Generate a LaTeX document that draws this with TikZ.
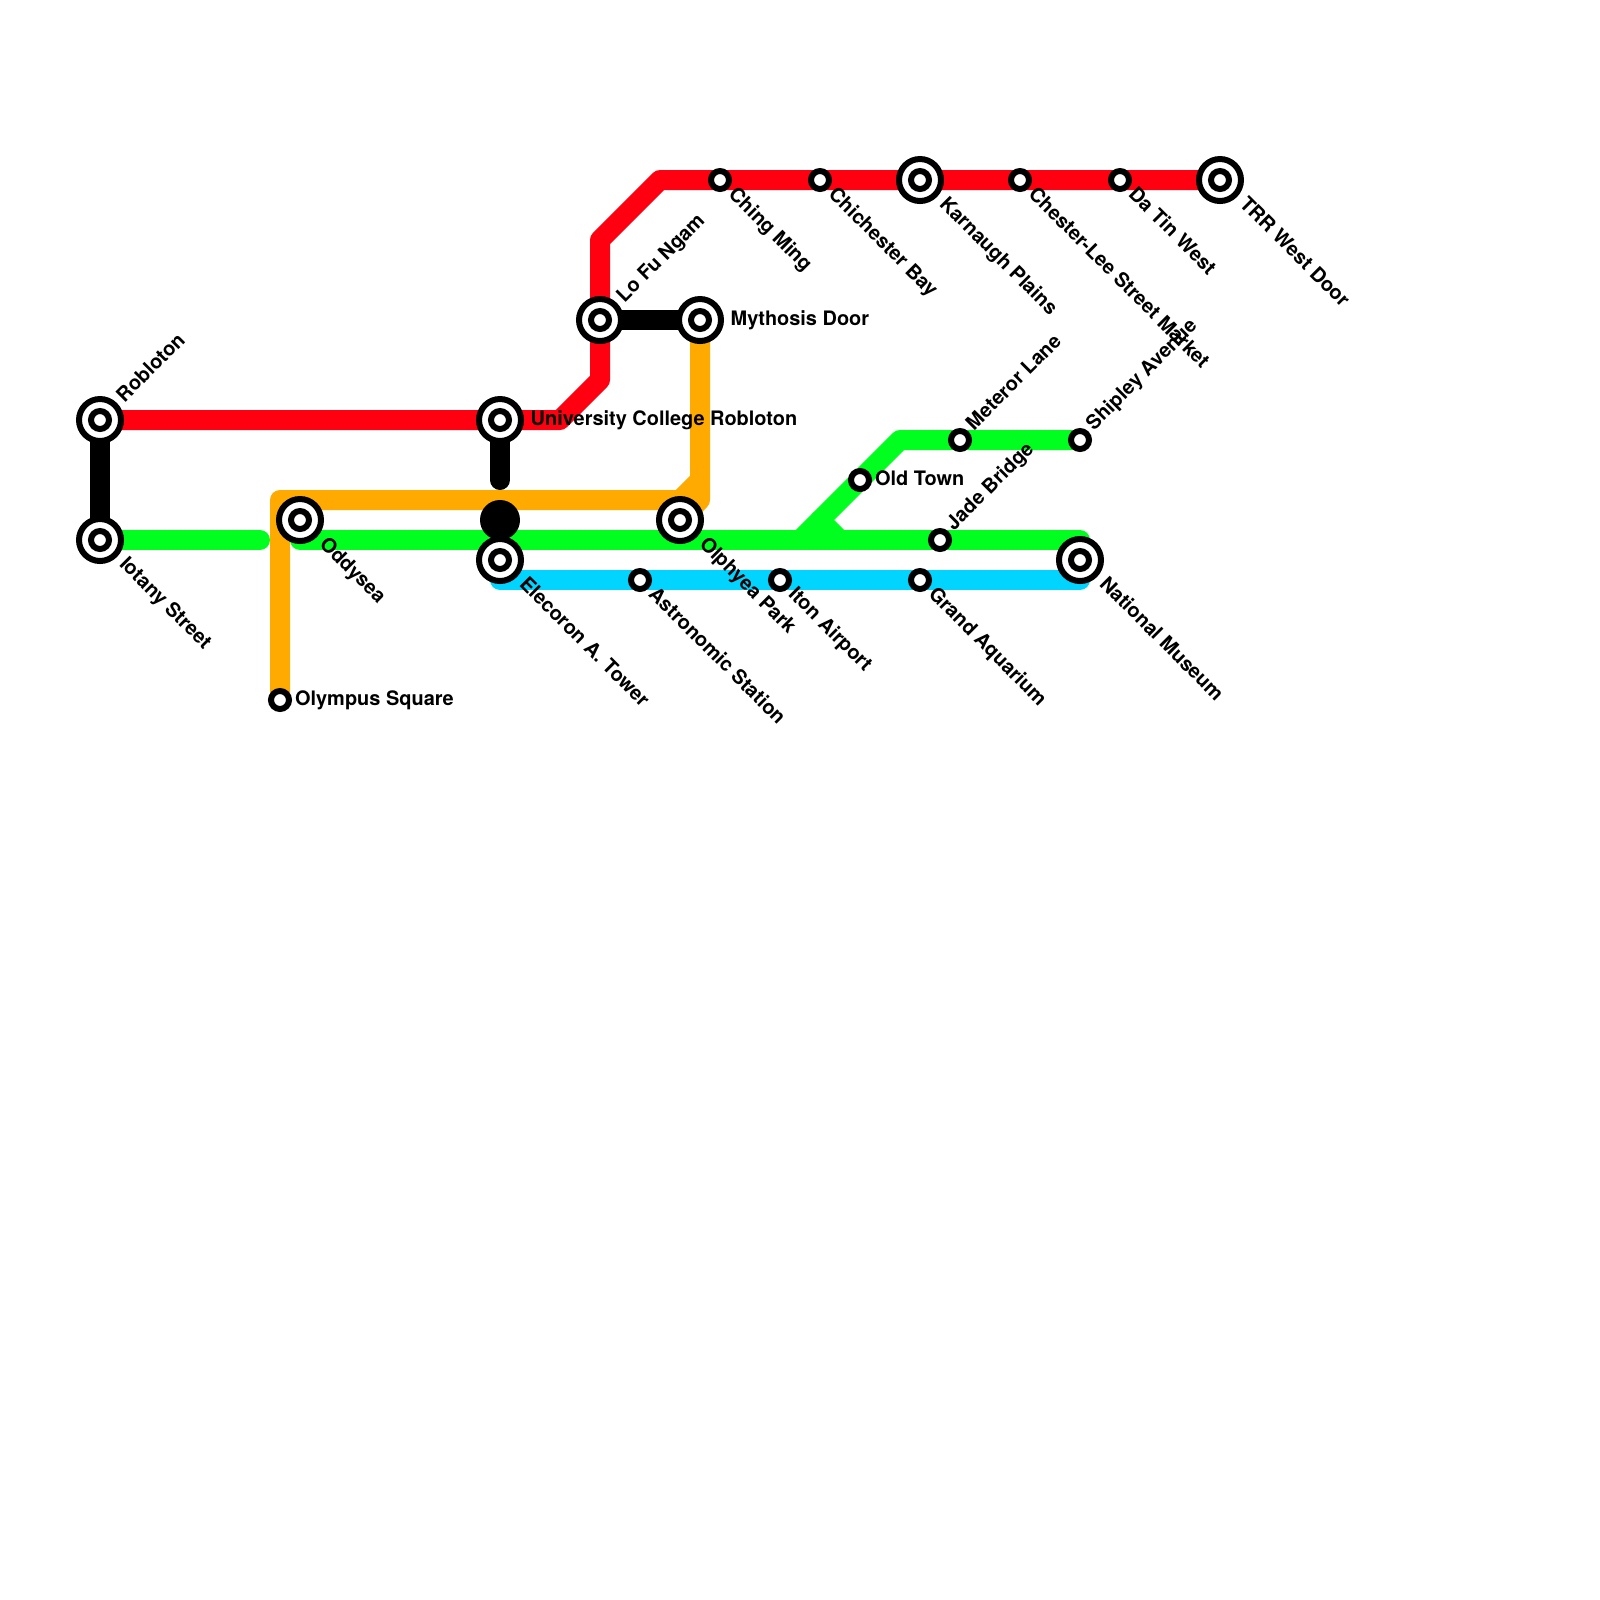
\documentclass[tikz,border=0pt]{standalone}
\usepackage{fontspec}
\setmainfont{TeX Gyre Heros}
\usetikzlibrary{backgrounds}
\definecolor{redline}{RGB}{255,0,16}
\definecolor{greenline}{RGB}{0,255,30}
\definecolor{orangeline}{RGB}{255,170,0}
\definecolor{cyanline}{RGB}{0,212,255}
\tikzset{
    route/.style={line width=2mm, line cap=round, line join=round},
    bigstn/.style={circle, draw=black, fill=white, line width=0.6mm, minimum size=4.2mm, inner sep=0},
    smallstn/.style={circle, draw=black, fill=white, line width=0.6mm, minimum size=1.8mm, inner sep=0},
    stnname/.style={font=\fontsize{5.67pt}{7pt}\selectfont\bfseries, inner sep=0, anchor=west, text height=1.4mm, text depth=0.4mm},
    nebig/.style={stnname, shift={(1.03,-1.0)}, rotate=45},
    sebig/.style={stnname, shift={(1.08,1.05)}, rotate=-45},
    ebig/.style={stnname, shift={(1.5,0)}},
    nesmall/.style={stnname, shift={(0.5,-0.6)}, rotate=45},
    sesmall/.style={stnname, shift={(0.53,0.57)}, rotate=-45},
    esmall/.style={stnname, shift={(0.72,0)}}
}
\begin{document}
\begin{tikzpicture}[x=0.2cm, y=-0.2cm]
\useasboundingbox (0,0) rectangle (80,80);

    % Stations
    \foreach \id/\px/\py in {robloton/5/21, iotany/5/27, oddysea/15/26, ucr/25/21, elecoron/25/28, lofu/30/16, mythosis/35/16, olphyea/34/26, karnaugh/46/9, trr/61/9, national/54/28} {
        \node[bigstn] (\id) at (\px,\py) {};
        \node[smallstn] (\id core) at (\id) {};
    }
    \foreach \id/\px/\py in {olympus/14/35, ching/36/9, chichester/41/9, chesterlee/51/9, datin/56/9, oldtown/43/24, meteror/48/22, shipley/54/22, jade/47/27, astronomic/32/29, iton/39/29, grand/46/29} {
        \node[smallstn] (\id) at (\px,\py) {};
    }
    \node[circle, fill=black, minimum size=4mm, inner sep=0] (blackdot) at (25,26) {};

    \coordinate (stubgreen) at (13,27);
    \coordinate (stubblack) at (25,24);
    \coordinate (forka) at (41,26);
    \coordinate (forkb) at (42,27);

    \begin{scope}[on background layer]
    \draw[route, redline] (robloton.center) -- (ucr.center) -- (28,21) -- (30,19) -- (lofu.center) -- (30,12) -- (33,9) -- (ching.center) -- (chichester.center) -- (karnaugh.center) -- (chesterlee.center) -- (datin.center) -- (trr.center);
    \draw[route, black] (robloton.center) -- (iotany.center);
    \draw[route, black] (ucr.center) -- (stubblack);
    \draw[route, black] (lofu.center) -- (mythosis.center);
    \draw[route, greenline] (iotany.center) -- (stubgreen);
    \draw[route, greenline] (oddysea.center) -- (15,27) -- (jade.center) -- (54,27) -- (national.center);
    \draw[route, greenline] (shipley.center) -- (meteror.center) -- (45,22) -- (oldtown.center) -- (40,27);
    \draw[route, greenline] (forka) -- (forkb);
    \draw[route, cyanline] (elecoron.center) -- (25,29) -- (astronomic.center) -- (iton.center) -- (grand.center) -- (54,29) -- (national.center);
    \draw[route, orangeline] (olympus.center) -- (14,25) -- (34,25) -- (35,24) -- (mythosis.center);
    \draw[route, orangeline] (olphyea.center) -- (35,25) -- (35,24);
    \end{scope}

    % Names
    \node[nebig] (roblotonname) at (robloton) {Robloton};
    \node[sebig] (iotanyname) at (iotany) {Iotany Street};
    \node[sebig] (oddyseaname) at (oddysea) {Oddysea};
    \node[esmall] (olympusname) at (olympus) {Olympus Square};
    \node[ebig] (ucrname) at (ucr) {University College Robloton};
    \node[sebig] (elecoronname) at (elecoron) {Elecoron A. Tower};
    \node[nebig] (lofuname) at (lofu) {Lo Fu Ngam};
    \node[ebig] (mythosisname) at (mythosis) {Mythosis Door};
    \node[sebig] (olphyeaname) at (olphyea) {Olphyea Park};
    \node[sesmall] (chingname) at (ching) {Ching Ming};
    \node[sesmall] (chichestername) at (chichester) {Chichester Bay};
    \node[sebig] (karnaughname) at (karnaugh) {Karnaugh Plains};
    \node[sesmall] (chesterleename) at (chesterlee) {Chester-Lee Street Market};
    \node[sesmall] (datinname) at (datin) {Da Tin West};
    \node[sebig] (trrname) at (trr) {TRR West Door};
    \node[esmall] (oldtownname) at (oldtown) {Old Town};
    \node[nesmall] (meterorname) at (meteror) {Meteror Lane};
    \node[nesmall] (shipleyname) at (shipley) {Shipley Avenue};
    \node[nesmall] (jadename) at (jade) {Jade Bridge};
    \node[sebig] (nationalname) at (national) {National Museum};
    \node[sesmall] (astronomicname) at (astronomic) {Astronomic Station};
    \node[sesmall] (itonname) at (iton) {Iton Airport};
    \node[sesmall] (grandname) at (grand) {Grand Aquarium};
\end{tikzpicture}
\end{document}
